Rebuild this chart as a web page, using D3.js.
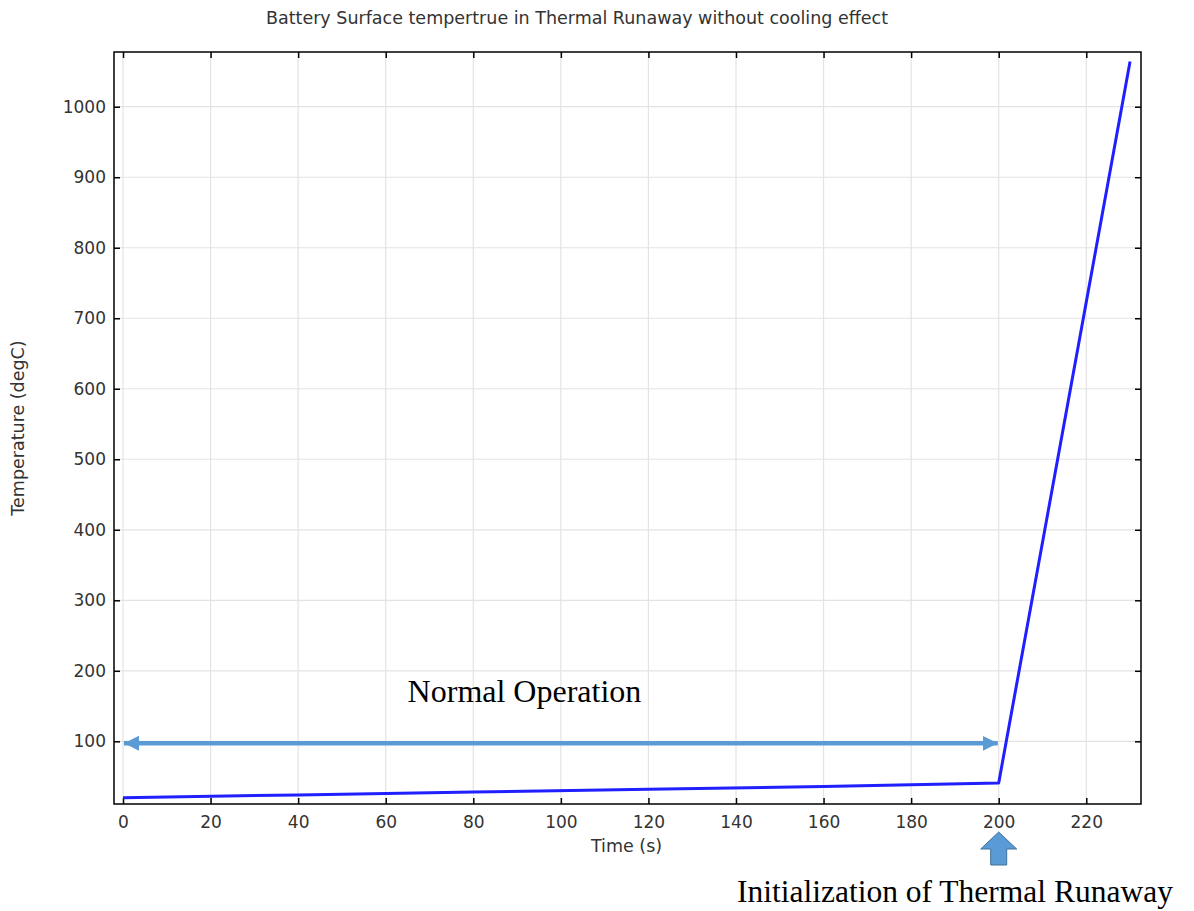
<!DOCTYPE html>
<html>
<head>
<meta charset="utf-8">
<script src="https://cdn.jsdelivr.net/npm/d3@7"></script>
<style>
  body { margin: 0; background: #fff; }
  svg text { font-family: "DejaVu Sans", sans-serif; fill: #333; }
  .serif { font-family: "Liberation Serif", "Times New Roman", serif; fill: #000; }
</style>
</head>
<body>
<div id="chart"></div>
<script>
// surface temperature over time
var times = [0, 40, 80, 120, 160, 200, 230];
var temps = [20, 24, 28, 32, 36, 41, 1064];
var xTicks = [0, 20, 40, 60, 80, 100, 120, 140, 160, 180, 200, 220];
var yTicks = [100, 200, 300, 400, 500, 600, 700, 800, 900, 1000];

var title = "Battery Surface tempertrue in Thermal Runaway without cooling effect";
var xLabel = "Time (s)", yLabel = "Temperature (degC)";

var width = 1194, height = 911;
var margin = {left: 114, top: 52, right: 53, bottom: 107};
var pw = width - margin.left - margin.right,
    ph = height - margin.top - margin.bottom;

var svg = d3.select("#chart").append("svg")
    .attr("width", width)
    .attr("height", height);

var x = d3.scaleLinear().domain([-2.06, 232.5]).range([0, pw]);
var y = d3.scaleLinear().domain([11.1, 1077.6]).range([ph, 0]);

var g = svg.append("g")
    .attr("transform", "translate(" + margin.left + "," + margin.top + ")");

// grid
g.append("g").selectAll("line")
  .data(xTicks).enter().append("line")
    .attr("x1", d => x(d)).attr("x2", d => x(d))
    .attr("y1", 0).attr("y2", ph)
    .style("stroke", "#e3e3e3").style("stroke-width", 1.2);
g.append("g").selectAll("line")
  .data(yTicks).enter().append("line")
    .attr("y1", d => y(d)).attr("y2", d => y(d))
    .attr("x1", 0).attr("x2", pw)
    .style("stroke", "#e3e3e3").style("stroke-width", 1.2);

// axes with inward ticks on all four sides
function styleAxis(sel) {
  sel.select(".domain").remove();
  sel.selectAll(".tick line").style("stroke", "#000").style("stroke-width", 1.5);
  sel.selectAll(".tick text").style("font-size", "17px").style("fill", "#333");
}
g.append("g").attr("transform", "translate(0," + ph + ")")
  .call(d3.axisBottom(x).tickValues(xTicks).tickSizeInner(-6).tickSizeOuter(0).tickPadding(12).tickFormat(d3.format("d")))
  .call(styleAxis);
g.append("g")
  .call(d3.axisTop(x).tickValues(xTicks).tickSizeInner(-6).tickSizeOuter(0).tickFormat(""))
  .call(styleAxis);
g.append("g")
  .call(d3.axisLeft(y).tickValues(yTicks).tickSizeInner(-6).tickSizeOuter(0).tickPadding(8).tickFormat(d3.format("d")))
  .call(styleAxis);
g.append("g").attr("transform", "translate(" + pw + ",0)")
  .call(d3.axisRight(y).tickValues(yTicks).tickSizeInner(-6).tickSizeOuter(0).tickFormat(""))
  .call(styleAxis);

g.append("rect")
  .attr("width", pw).attr("height", ph)
  .attr("fill", "none").style("stroke", "#000").style("stroke-width", 1.5);

// the curve
var line = d3.line()
  .x((d, i) => x(times[i]))
  .y(d => y(d));
g.append("path")
  .datum(temps)
  .attr("d", line)
  .attr("fill", "none")
  .style("stroke", "#1f1fff")
  .style("stroke-width", 3)
  .style("stroke-linejoin", "round");

// annotations
var arrowColor = "#5b9bd5";
var defs = svg.append("defs");
defs.append("marker")
  .attr("id", "head")
  .attr("viewBox", "0 0 10 10")
  .attr("refX", 10).attr("refY", 5)
  .attr("markerWidth", 3.4).attr("markerHeight", 3.6)
  .attr("markerUnits", "strokeWidth")
  .attr("orient", "auto-start-reverse")
  .append("path").attr("d", "M0,0 L10,5 L0,10 Z").attr("fill", arrowColor);

var ay = y(100) + 2;
g.append("line")
  .attr("x1", x(0.2)).attr("x2", x(199.8))
  .attr("y1", ay).attr("y2", ay)
  .style("stroke", arrowColor).style("stroke-width", 4.5)
  .attr("marker-start", "url(#head)").attr("marker-end", "url(#head)");

g.append("text").attr("class", "serif")
  .attr("x", x(65)).attr("y", y(100) - 39)
  .style("font-size", "32px")
  .text("Normal Operation");

// block arrow under 200
var bx = margin.left + x(200);
svg.append("path")
  .attr("d", "M" + (bx - 8) + ",865 L" + (bx - 8) + ",849 L" + (bx - 18) + ",849 L" + bx + ",832 L" +
        (bx + 18) + ",849 L" + (bx + 8) + ",849 L" + (bx + 8) + ",865 Z")
  .attr("fill", arrowColor)
  .style("stroke", "#41719c").style("stroke-width", 1);

svg.append("text").attr("class", "serif")
  .attr("x", 737).attr("y", 902)
  .style("font-size", "31.5px")
  .text("Initialization of Thermal Runaway");

// titles
svg.append("text")
  .attr("x", 577).attr("y", 24)
  .attr("text-anchor", "middle")
  .style("font-size", "17.5px")
  .text(title);
svg.append("text")
  .attr("x", margin.left + x(115)).attr("y", 852)
  .attr("text-anchor", "middle")
  .style("font-size", "17.5px")
  .text(xLabel);
svg.append("text")
  .attr("transform", "translate(24," + (margin.top + ph / 2) + ") rotate(-90)")
  .attr("text-anchor", "middle")
  .style("font-size", "17.5px")
  .text(yLabel);
</script>
</body>
</html>
